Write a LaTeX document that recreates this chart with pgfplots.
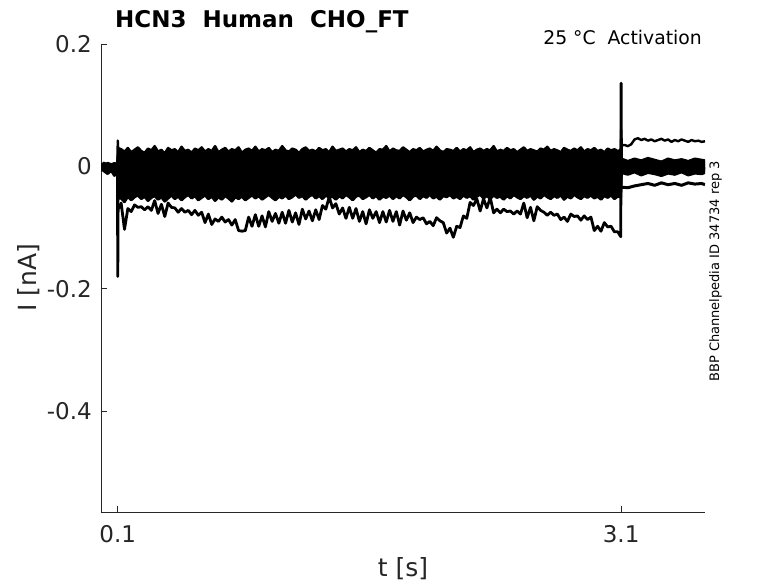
\documentclass[border=0pt]{standalone}
\usepackage{pgfplots}
\pgfplotsset{compat=1.18}
\usepgfplotslibrary{fillbetween}
\usepackage{pgfplotstable}
\usepackage{fontspec}
\setmainfont{DejaVu Sans}
\definecolor{axgray}{HTML}{262626}

% edge traces: a = top trace, b = bottom of dense band, c = lowest trace (nA)
\pgfplotstableread{
t a b c
0 0.002 -0.004 0.000
0.02 0.006 -0.008 -0.003
0.04 -0.001 -0.012 0.004
0.06 0.004 -0.006 -0.009
0.08 0.001 -0.015 -0.002
0.098 0.003 -0.007 -0.005
0.1 0.042 -0.060 -0.180
0.102 0.030 -0.052 -0.070
0.12 0.028 -0.052 -0.060
0.14 0.024 -0.058 -0.103
0.16 0.030 -0.049 -0.069
0.18 0.023 -0.055 -0.074
0.20 0.027 -0.050 -0.063
0.22 0.031 -0.047 -0.067
0.24 0.025 -0.053 -0.066
0.26 0.022 -0.049 -0.071
0.28 0.029 -0.056 -0.066
0.30 0.026 -0.051 -0.072
0.32 0.033 -0.048 -0.056
0.34 0.024 -0.054 -0.077
0.36 0.027 -0.050 -0.062
0.38 0.021 -0.057 -0.082
0.40 0.030 -0.052 -0.060
0.42 0.026 -0.047 -0.067
0.44 0.028 -0.053 -0.068
0.46 0.023 -0.049 -0.075
0.48 0.032 -0.055 -0.069
0.50 0.025 -0.050 -0.075
0.52 0.027 -0.046 -0.072
0.54 0.022 -0.052 -0.079
0.56 0.029 -0.048 -0.072
0.58 0.026 -0.055 -0.080
0.60 0.031 -0.051 -0.075
0.62 0.024 -0.047 -0.092
0.64 0.028 -0.053 -0.078
0.66 0.025 -0.049 -0.095
0.68 0.033 -0.056 -0.086
0.70 0.023 -0.050 -0.090
0.72 0.027 -0.054 -0.083
0.74 0.030 -0.048 -0.091
0.76 0.024 -0.052 -0.087
0.78 0.028 -0.057 -0.096
0.80 0.026 -0.050 -0.087
0.82 0.031 -0.053 -0.105
0.84 0.022 -0.049 -0.106
0.86 0.027 -0.055 -0.105
0.88 0.029 -0.051 -0.083
0.90 0.025 -0.047 -0.098
0.92 0.032 -0.052 -0.079
0.94 0.024 -0.048 -0.098
0.96 0.028 -0.054 -0.081
0.98 0.026 -0.050 -0.099
1.00 0.030 -0.046 -0.074
1.02 0.023 -0.051 -0.090
1.04 0.027 -0.055 -0.077
1.06 0.025 -0.049 -0.093
1.08 0.033 -0.052 -0.075
1.10 0.026 -0.047 -0.093
1.12 0.024 -0.053 -0.072
1.14 0.029 -0.050 -0.091
1.16 0.027 -0.045 -0.076
1.18 0.022 -0.051 -0.095
1.20 0.028 -0.048 -0.070
1.22 0.031 -0.054 -0.086
1.24 0.025 -0.049 -0.073
1.26 0.027 -0.046 -0.089
1.28 0.024 -0.052 -0.071
1.30 0.030 -0.048 -0.087
1.32 0.026 -0.053 -0.064
1.34 0.028 -0.047 -0.070
1.36 0.023 -0.051 -0.050
1.38 0.032 -0.049 -0.068
1.40 0.025 -0.054 -0.061
1.42 0.027 -0.048 -0.078
1.44 0.029 -0.052 -0.068
1.46 0.024 -0.046 -0.085
1.48 0.028 -0.050 -0.067
1.50 0.026 -0.055 -0.085
1.52 0.031 -0.049 -0.069
1.54 0.023 -0.047 -0.090
1.56 0.027 -0.053 -0.074
1.58 0.025 -0.050 -0.094
1.60 0.030 -0.046 -0.071
1.62 0.026 -0.052 -0.085
1.64 0.022 -0.048 -0.074
1.66 0.028 -0.054 -0.092
1.68 0.027 -0.049 -0.074
1.70 0.033 -0.051 -0.091
1.72 0.024 -0.047 -0.072
1.74 0.029 -0.053 -0.090
1.76 0.026 -0.048 -0.074
1.78 0.025 -0.052 -0.096
1.80 0.031 -0.046 -0.073
1.82 0.027 -0.050 -0.088
1.84 0.023 -0.055 -0.076
1.86 0.028 -0.049 -0.092
1.88 0.026 -0.047 -0.083
1.90 0.030 -0.053 -0.087
1.92 0.024 -0.048 -0.084
1.94 0.027 -0.051 -0.094
1.96 0.029 -0.046 -0.090
1.98 0.025 -0.052 -0.097
2.00 0.032 -0.049 -0.084
2.02 0.026 -0.054 -0.089
2.04 0.023 -0.048 -0.092
2.06 0.028 -0.050 -0.109
2.08 0.027 -0.046 -0.101
2.10 0.025 -0.052 -0.116
2.12 0.030 -0.049 -0.098
2.14 0.024 -0.053 -0.100
2.16 0.028 -0.047 -0.081
2.18 0.026 -0.051 -0.085
2.20 0.031 -0.048 -0.059
2.22 0.023 -0.054 -0.064
2.24 0.027 -0.049 -0.053
2.26 0.029 -0.046 -0.073
2.28 0.025 -0.052 -0.053
2.30 0.028 -0.048 -0.068
2.32 0.026 -0.053 -0.051
2.34 0.033 -0.047 -0.076
2.36 0.024 -0.051 -0.070
2.38 0.027 -0.049 -0.076
2.40 0.025 -0.054 -0.070
2.42 0.030 -0.048 -0.074
2.44 0.026 -0.052 -0.073
2.46 0.028 -0.046 -0.078
2.48 0.023 -0.050 -0.073
2.50 0.027 -0.053 -0.078
2.52 0.031 -0.048 -0.060
2.54 0.025 -0.051 -0.084
2.56 0.028 -0.047 -0.067
2.58 0.026 -0.054 -0.089
2.60 0.024 -0.049 -0.066
2.62 0.029 -0.052 -0.072
2.64 0.027 -0.046 -0.075
2.66 0.032 -0.050 -0.080
2.68 0.025 -0.053 -0.075
2.70 0.028 -0.048 -0.080
2.72 0.026 -0.051 -0.078
2.74 0.023 -0.047 -0.087
2.76 0.030 -0.054 -0.083
2.78 0.027 -0.049 -0.090
2.80 0.025 -0.052 -0.078
2.82 0.029 -0.046 -0.082
2.84 0.026 -0.050 -0.081
2.86 0.031 -0.053 -0.088
2.88 0.024 -0.048 -0.081
2.90 0.028 -0.051 -0.087
2.92 0.026 -0.047 -0.083
2.94 0.030 -0.052 -0.105
2.96 0.025 -0.049 -0.098
2.98 0.027 -0.054 -0.106
3.00 0.023 -0.048 -0.092
3.02 0.029 -0.051 -0.099
3.04 0.026 -0.047 -0.098
3.06 0.028 -0.053 -0.107
3.08 0.025 -0.049 -0.107
3.098 0.027 -0.050 -0.115
3.1 0.060 0.030 0.136
3.102 0.034 0.004 0.006
3.12 0.035 0.003 -0.006
3.14 0.033 -0.002 -0.001
3.16 0.036 0.004 -0.008
3.18 0.044 -0.001 -0.003
3.20 0.046 0.005 -0.009
3.22 0.043 0.000 -0.002
3.24 0.045 -0.003 -0.007
3.26 0.042 0.003 0.000
3.28 0.044 -0.002 -0.005
3.30 0.041 0.004 -0.010
3.32 0.043 -0.001 -0.004
3.34 0.045 0.002 -0.007
3.36 0.042 -0.004 -0.001
3.38 0.044 0.003 -0.006
3.40 0.040 0.000 -0.003
3.42 0.043 0.005 -0.008
3.44 0.041 -0.002 -0.002
3.46 0.044 0.002 -0.006
3.48 0.042 -0.003 0.000
3.50 0.040 0.004 -0.005
3.52 0.043 -0.001 -0.009
3.54 0.041 0.003 -0.003
3.56 0.042 -0.002 -0.007
3.58 0.040 0.001 -0.002
3.60 0.041 -0.003 -0.005
}\edgedata

% interior traces of the dense band (nA)
\pgfplotstableread{
t p q r s u v w z
0 0.003 -0.001 0.002 -0.004 0.000 -0.006 0.001 -0.003
0.04 -0.002 0.004 -0.005 0.001 -0.008 0.002 -0.004 0.005
0.08 0.005 -0.003 0.000 -0.007 0.003 -0.002 -0.010 0.000
0.098 0.001 0.002 -0.004 -0.001 -0.005 0.004 -0.002 -0.006
0.102 0.020 0.012 0.003 -0.005 -0.014 -0.023 -0.031 -0.040
0.14 0.021 0.007 0.005 -0.009 -0.011 -0.025 -0.027 -0.043
0.18 0.015 0.013 -0.001 -0.003 -0.017 -0.019 -0.033 -0.036
0.22 0.020 0.008 0.004 -0.008 -0.012 -0.024 -0.029 -0.042
0.26 0.016 0.012 0.000 -0.004 -0.016 -0.020 -0.032 -0.037
0.30 0.022 0.009 0.003 -0.007 -0.013 -0.023 -0.028 -0.044
0.34 0.017 0.011 -0.002 -0.005 -0.015 -0.021 -0.034 -0.038
0.38 0.019 0.006 0.005 -0.009 -0.010 -0.025 -0.030 -0.041
0.42 0.014 0.013 0.001 -0.003 -0.018 -0.018 -0.026 -0.035
0.46 0.021 0.008 -0.001 -0.008 -0.012 -0.024 -0.033 -0.043
0.50 0.016 0.011 0.004 -0.005 -0.016 -0.020 -0.028 -0.038
0.54 0.023 0.007 0.000 -0.007 -0.013 -0.026 -0.031 -0.042
0.58 0.018 0.012 0.003 -0.004 -0.017 -0.019 -0.035 -0.036
0.62 0.015 0.009 -0.002 -0.009 -0.011 -0.023 -0.029 -0.044
0.66 0.020 0.013 0.005 -0.003 -0.015 -0.021 -0.027 -0.039
0.70 0.017 0.006 0.001 -0.008 -0.014 -0.025 -0.033 -0.040
0.74 0.022 0.010 -0.001 -0.005 -0.018 -0.020 -0.030 -0.037
0.78 0.016 0.012 0.004 -0.007 -0.012 -0.024 -0.026 -0.043
0.82 0.019 0.007 0.000 -0.004 -0.016 -0.022 -0.034 -0.038
0.86 0.014 0.011 0.003 -0.009 -0.013 -0.018 -0.029 -0.041
0.90 0.021 0.009 -0.002 -0.006 -0.017 -0.026 -0.032 -0.036
0.94 0.018 0.013 0.005 -0.003 -0.011 -0.021 -0.028 -0.044
0.98 0.023 0.008 0.001 -0.008 -0.015 -0.023 -0.035 -0.039
1.02 0.015 0.010 -0.001 -0.005 -0.014 -0.019 -0.031 -0.042
1.06 0.020 0.006 0.004 -0.007 -0.018 -0.025 -0.027 -0.037
1.10 0.017 0.012 0.000 -0.004 -0.012 -0.020 -0.033 -0.040
1.14 0.022 0.009 0.003 -0.009 -0.016 -0.024 -0.030 -0.043
1.18 0.016 0.013 -0.002 -0.006 -0.013 -0.022 -0.026 -0.038
1.22 0.019 0.007 0.005 -0.003 -0.017 -0.018 -0.034 -0.041
1.26 0.014 0.011 0.001 -0.008 -0.011 -0.026 -0.029 -0.036
1.30 0.021 0.008 -0.001 -0.005 -0.015 -0.021 -0.032 -0.044
1.34 0.018 0.012 0.004 -0.007 -0.014 -0.023 -0.028 -0.039
1.38 0.023 0.010 0.000 -0.004 -0.018 -0.019 -0.035 -0.042
1.42 0.015 0.006 0.003 -0.009 -0.012 -0.025 -0.031 -0.037
1.46 0.020 0.013 -0.002 -0.006 -0.016 -0.020 -0.027 -0.040
1.50 0.017 0.009 0.005 -0.003 -0.013 -0.024 -0.033 -0.043
1.54 0.022 0.011 0.001 -0.008 -0.017 -0.022 -0.030 -0.038
1.58 0.016 0.007 -0.001 -0.005 -0.011 -0.018 -0.026 -0.041
1.62 0.019 0.012 0.004 -0.007 -0.015 -0.026 -0.034 -0.036
1.66 0.014 0.008 0.000 -0.004 -0.014 -0.021 -0.029 -0.044
1.70 0.021 0.013 0.003 -0.009 -0.018 -0.023 -0.032 -0.039
1.74 0.018 0.010 -0.002 -0.006 -0.012 -0.019 -0.028 -0.042
1.78 0.023 0.006 0.005 -0.003 -0.016 -0.025 -0.035 -0.037
1.82 0.015 0.011 0.001 -0.008 -0.013 -0.020 -0.031 -0.040
1.86 0.020 0.009 -0.001 -0.005 -0.017 -0.024 -0.027 -0.043
1.90 0.017 0.012 0.004 -0.007 -0.011 -0.022 -0.033 -0.038
1.94 0.022 0.007 0.000 -0.004 -0.015 -0.018 -0.030 -0.041
1.98 0.016 0.013 0.003 -0.009 -0.014 -0.026 -0.026 -0.036
2.02 0.019 0.008 -0.002 -0.006 -0.018 -0.021 -0.034 -0.044
2.06 0.014 0.010 0.005 -0.003 -0.012 -0.023 -0.029 -0.039
2.10 0.021 0.006 0.001 -0.008 -0.016 -0.019 -0.032 -0.042
2.14 0.018 0.012 -0.001 -0.005 -0.013 -0.025 -0.028 -0.037
2.18 0.023 0.009 0.004 -0.007 -0.017 -0.020 -0.035 -0.040
2.22 0.015 0.011 0.000 -0.004 -0.011 -0.024 -0.031 -0.043
2.26 0.020 0.007 0.003 -0.009 -0.015 -0.022 -0.027 -0.038
2.30 0.017 0.013 -0.002 -0.006 -0.014 -0.018 -0.033 -0.041
2.34 0.022 0.008 0.005 -0.003 -0.018 -0.026 -0.030 -0.036
2.38 0.016 0.010 0.001 -0.008 -0.012 -0.021 -0.026 -0.044
2.42 0.019 0.006 -0.001 -0.005 -0.016 -0.023 -0.034 -0.039
2.46 0.014 0.012 0.004 -0.007 -0.013 -0.019 -0.029 -0.042
2.50 0.021 0.009 0.000 -0.004 -0.017 -0.025 -0.032 -0.037
2.54 0.018 0.011 0.003 -0.009 -0.011 -0.020 -0.028 -0.040
2.58 0.023 0.007 -0.002 -0.006 -0.015 -0.024 -0.035 -0.043
2.62 0.015 0.013 0.005 -0.003 -0.014 -0.022 -0.031 -0.038
2.66 0.020 0.008 0.001 -0.008 -0.018 -0.018 -0.027 -0.041
2.70 0.017 0.010 -0.001 -0.005 -0.012 -0.026 -0.033 -0.036
2.74 0.022 0.006 0.004 -0.007 -0.016 -0.021 -0.030 -0.044
2.78 0.016 0.012 0.000 -0.004 -0.013 -0.023 -0.026 -0.039
2.82 0.019 0.009 0.003 -0.009 -0.017 -0.019 -0.034 -0.042
2.86 0.014 0.011 -0.002 -0.006 -0.011 -0.025 -0.029 -0.037
2.90 0.021 0.007 0.005 -0.003 -0.015 -0.020 -0.032 -0.040
2.94 0.018 0.013 0.001 -0.008 -0.014 -0.024 -0.028 -0.043
2.98 0.023 0.008 -0.001 -0.005 -0.018 -0.022 -0.035 -0.038
3.02 0.015 0.010 0.004 -0.007 -0.012 -0.018 -0.031 -0.041
3.06 0.020 0.006 0.000 -0.004 -0.016 -0.026 -0.027 -0.036
3.098 0.017 0.011 0.003 -0.008 -0.013 -0.021 -0.033 -0.042
3.102 0.012 0.008 0.003 -0.001 -0.006 -0.010 -0.034 -0.004
3.14 0.008 0.004 0.000 -0.004 -0.009 -0.013 -0.035 -0.002
3.18 0.012 0.007 0.003 0.000 -0.005 -0.009 -0.032 -0.006
3.22 0.009 0.005 -0.001 -0.003 -0.008 -0.014 -0.030 -0.001
3.26 0.013 0.008 0.004 -0.001 -0.006 -0.010 -0.028 -0.005
3.30 0.010 0.004 0.001 -0.004 -0.009 -0.012 -0.031 -0.003
3.34 0.007 0.007 0.003 0.000 -0.007 -0.015 -0.027 -0.007
3.38 0.012 0.005 -0.001 -0.002 -0.004 -0.011 -0.030 -0.002
3.42 0.009 0.008 0.002 -0.005 -0.008 -0.013 -0.028 -0.006
3.46 0.011 0.004 0.004 -0.001 -0.006 -0.009 -0.031 0.000
3.50 0.008 0.006 0.000 -0.003 -0.009 -0.014 -0.027 -0.004
3.54 0.012 0.009 0.002 -0.002 -0.005 -0.011 -0.029 -0.007
3.58 0.010 0.005 0.003 -0.004 -0.008 -0.012 -0.028 -0.003
3.60 0.009 0.007 0.001 -0.001 -0.006 -0.010 -0.030 -0.005
}\banddata

\begin{document}
\begin{tikzpicture}
\begin{axis}[
  at={(0pt,0pt)}, anchor=south west,
  width=604pt, height=468pt, scale only axis,
  xmin=0, xmax=3.6, ymin=-0.565, ymax=0.2,
  axis lines*=left,
  axis line style={-, draw=axgray, line width=0.6pt},
  tick align=inside, major tick length=6pt,
  tick style={draw=axgray, line width=0.6pt},
  xtick={0.1,3.1}, xticklabels={0.1,3.1},
  ytick={-0.4,-0.2,0,0.2}, yticklabels={-0.4,-0.2,0,0.2},
  ticklabel style={font=\fontsize{23}{27}\selectfont, text=axgray, inner sep=0pt},
  xticklabel style={anchor=base, yshift=-30pt},
  yticklabel style={anchor=east, xshift=-9pt},
]
\addplot[black, line width=3pt, line join=round, name path=P] table[x=t, y=p] {\banddata};
\addplot[black, line width=3pt, line join=round] table[x=t, y=q] {\banddata};
\addplot[black, line width=3pt, line join=round] table[x=t, y=r] {\banddata};
\addplot[black, line width=3pt, line join=round] table[x=t, y=s] {\banddata};
\addplot[black, line width=3pt, line join=round] table[x=t, y=u] {\banddata};
\addplot[black, line width=3pt, line join=round, name path=V] table[x=t, y=v] {\banddata};
\addplot[black, line width=3pt, line join=round] table[x=t, y=w] {\banddata};
\addplot[black, line width=3pt, line join=round] table[x=t, y=z] {\banddata};
\addplot[black, line width=2.4pt, line join=round, name path=A] table[x=t, y=a] {\edgedata};
\addplot[black, line width=2.8pt, line join=round, name path=B] table[x=t, y=b] {\edgedata};
\addplot[black, line width=2.8pt, line join=round] table[x=t, y=c] {\edgedata};
\addplot[black] fill between[of=A and B, soft clip={domain=0.103:3.097}];
\addplot[black] fill between[of=P and V, soft clip={domain=3.103:3.6}];
\end{axis}
\node[anchor=base west, font=\fontsize{23}{27}\selectfont\bfseries, inner sep=0pt] at (14pt,484.5pt) {HCN3\ \ Human\ \ CHO\_FT};
\node[anchor=base east, font=\fontsize{18.8}{22}\selectfont, inner sep=0pt] at (601pt,467pt) {25 °C\ \ Activation};
\node[rotate=90, anchor=base, font=\fontsize{13}{15}\selectfont, inner sep=0pt] at (618pt,240.5pt) {BBP Channelpedia ID 34734 rep 3};
\node[anchor=base, font=\fontsize{25}{30}\selectfont, text=axgray, inner sep=0pt] at (302pt,-64pt) {t [s]};
\node[rotate=90, anchor=base, font=\fontsize{25}{30}\selectfont, text=axgray, inner sep=0pt] at (-64pt,234pt) {I [nA]};
\path (-101pt,-71pt) rectangle (677pt,512pt);
\end{tikzpicture}
\end{document}
